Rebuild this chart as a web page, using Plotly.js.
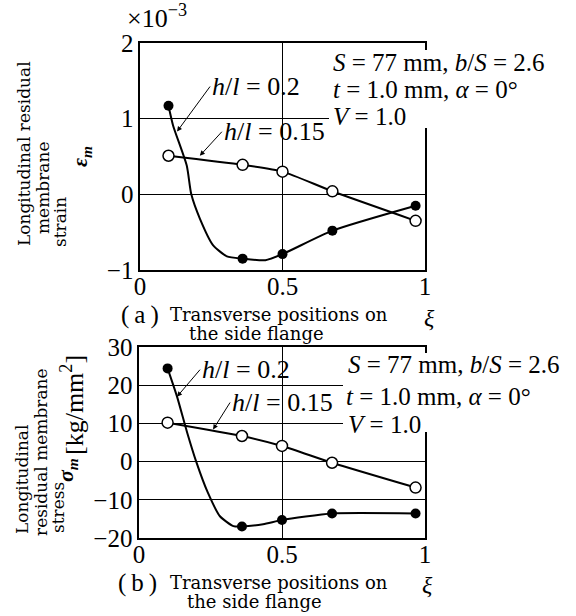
<!DOCTYPE html>
<html><head><meta charset="utf-8">
<script src="https://cdn.plot.ly/plotly-3.0.1.min.js"></script>
<style>html,body{margin:0;padding:0;background:#fff}</style>
</head><body><div id="chart" style="width:576px;height:616px"></div>
<script>
// ---- data ----
const xi = [0.1, 0.36, 0.5, 0.675, 0.967];
const strainH020 = [1.17, -0.85, -0.79, -0.48, -0.15];
const strainH015 = [0.51, 0.39, 0.30, 0.04, -0.35];
const stressH020 = [24.4, -17.0, -15.3, -13.6, -13.6];
const stressH015 = [10.2, 6.7, 4.1, -0.3, -6.8];
// drawn curve for h/l=0.2
const strainCurveX = [0.1, 0.116, 0.164, 0.18, 0.21, 0.256, 0.305, 0.36, 0.44, 0.5, 0.675, 0.967];
const strainCurveY = [1.17, 0.91, 0.38, 0.0, -0.32, -0.67, -0.82, -0.85, -0.87, -0.79, -0.48, -0.15];
const stressCurveX = [0.1, 0.133, 0.168, 0.2, 0.24, 0.283, 0.33, 0.36, 0.434, 0.5, 0.675, 0.967];
const stressCurveY = [24.4, 17, 7.7, 0, -8, -14.3, -16.9, -17.0, -16.4, -15.3, -13.6, -13.6];
// ticks
const xTickVals = [0, 0.5, 1];
const xTickText = ['0', '0.5', '1'];
const strainTickVals = [-1, 0, 1, 2];
const strainTickText = ['\u22121', '0', '1', '2'];
const stressTickVals = [-20, -10, 0, 10, 20, 30];
const stressTickText = ['\u221220', '\u221210', '0', '10', '20', '30'];

const F = '"Liberation Serif", "Times New Roman", serif';
const S = '"DejaVu Serif", serif';
const W = 576, H = 616;
const px = x => x / W, py = y => 1 - y / H;

function curve(x, y, xa, ya) {
  return {x, y, xaxis: xa, yaxis: ya, mode: 'lines', line: {color: '#000', width: 2, shape: 'spline', smoothing: 0.6}, hoverinfo: 'skip', showlegend: false};
}
function openSeries(x, y, xa, ya) {
  return {x, y, xaxis: xa, yaxis: ya, mode: 'lines+markers', line: {color: '#000', width: 2, shape: 'spline', smoothing: 0.6},
    marker: {symbol: 'circle', size: 11, color: '#fff', line: {color: '#000', width: 1.5}}, showlegend: false};
}
function filled(x, y, xa, ya) {
  return {x, y, xaxis: xa, yaxis: ya, mode: 'markers', marker: {symbol: 'circle', size: 10, color: '#000'}, showlegend: false};
}

const traces = [
  curve(strainCurveX, strainCurveY, 'x', 'y'),
  openSeries(xi, strainH015, 'x', 'y'),
  filled(xi, strainH020, 'x', 'y'),
  curve(stressCurveX, stressCurveY, 'x2', 'y2'),
  openSeries(xi, stressH015, 'x2', 'y2'),
  filled(xi, stressH020, 'x2', 'y2')
];

const axBase = {showline: true, mirror: true, linecolor: '#000', linewidth: 1.6, showgrid: true, gridcolor: '#000', gridwidth: 1,
  zeroline: false, ticks: '', tickfont: {family: F, size: 25, color: '#000'}, fixedrange: true};
const xBase = Object.assign({}, axBase, {ticklabelstandoff: -7});

function txt(x, y, text, size, opts) {
  return Object.assign({xref: 'paper', yref: 'paper', x: px(x), y: py(y), text, showarrow: false,
    xanchor: 'left', yanchor: 'middle', font: {family: F, size, color: '#000'}}, opts || {});
}
function stxt(x, y, text, size) {
  return txt(x, y, text, size, {font: {family: S, size, color: '#000'}});
}
function rot(x, y, text, size, family, opts) {
  return Object.assign({xref: 'paper', yref: 'paper', x: px(x), y: py(y), text, showarrow: false, textangle: -90,
    xanchor: 'center', yanchor: 'middle', font: {family: family, size, color: '#000'}}, opts || {});
}
function arrowLbl(xa, ya, x, y, ax, ay, text) {
  return {xref: xa, yref: ya, x, y, ax, ay, text, showarrow: true, arrowhead: 2, arrowsize: 1, arrowwidth: 1, arrowcolor: '#000',
    xanchor: 'left', yanchor: 'middle', font: {family: F, size: 26, color: '#000'}};
}

const annotations = [
  // top panel
  txt(125, 16, '\u00d710<sup>\u22123</sup>', 26),
  arrowLbl('x', 'y', 0.13, 0.83, 33, -45, '<i>h</i>/<i>l</i> = 0.2'),
  arrowLbl('x', 'y', 0.21, 0.51, 22, -24, '<i>h</i>/<i>l</i> = 0.15'),
  txt(331, 62, '<i>S</i> = 77 mm, <i>b</i>/<i>S</i> = 2.6', 25),
  txt(331, 90, '<i>t</i> = 1.0 mm, <i>\u03b1</i> = 0\u00b0', 25),
  txt(331, 116, '<i>V</i> = 1.0', 25),
  rot(24, 154, 'Longitudinal residual', 17, S),
  rot(43, 188, 'membrane', 17, S),
  rot(60, 222, 'strain', 17, S),
  rot(81, 157, '<b><i>\u03b5<sub>m</sub></i></b>', 22, F),
  txt(119, 315, '(\u2009a\u2009)', 25),
  stxt(168, 314, 'Transverse positions on', 18),
  stxt(187, 333, 'the side flange', 18),
  txt(429, 318, '<i>\u03be</i>', 24, {xanchor: 'center'}),
  // bottom panel
  arrowLbl('x2', 'y2', 0.133, 17, 23, -27, '<i>h</i>/<i>l</i> = 0.2'),
  arrowLbl('x2', 'y2', 0.259, 8.4, 17, -27, '<i>h</i>/<i>l</i> = 0.15'),
  txt(346, 364, '<i>S</i> = 77 mm, <i>b</i>/<i>S</i> = 2.6', 25),
  txt(344, 396, '<i>t</i> = 1.0 mm, <i>\u03b1</i> = 0\u00b0', 25),
  txt(346, 424, '<i>V</i> = 1.0', 25),
  rot(22, 480, 'Longitudinal', 17, S),
  rot(41, 452, 'residual membrane', 17, S),
  rot(58, 508, 'stress', 17, S),
  rot(67, 470, '<b><i>\u03c3<sub>m</sub></i></b>', 22, F),
  rot(72, 405, '[kg/mm<sup>2</sup>]', 26, F),
  txt(116, 583, '(\u2009b\u2009)', 25),
  stxt(168, 582, 'Transverse positions on', 18),
  stxt(185, 601, 'the side flange', 18),
  txt(427, 585, '<i>\u03be</i>', 24, {xanchor: 'center'})
];

const shapes = [
  {type: 'rect', xref: 'paper', yref: 'paper', x0: px(329), x1: px(566), y0: py(128), y1: py(50), fillcolor: '#fff', line: {width: 0}, layer: 'above'},
  {type: 'rect', xref: 'paper', yref: 'paper', x0: px(343), x1: px(566), y0: py(432), y1: py(353), fillcolor: '#fff', line: {width: 0}, layer: 'above'}
];

const layout = {
  width: W, height: H, margin: {l: 0, r: 0, t: 0, b: 0},
  paper_bgcolor: '#fff', plot_bgcolor: '#fff', showlegend: false,
  font: {family: F, color: '#000'},
  xaxis: Object.assign({}, xBase, {domain: [px(140), px(425)], range: [0, 1], tickvals: xTickVals, ticktext: xTickText, anchor: 'y'}),
  yaxis: Object.assign({}, axBase, {domain: [py(270), py(43)], range: [-1, 2], tickvals: strainTickVals, ticktext: strainTickText, anchor: 'x'}),
  xaxis2: Object.assign({}, xBase, {domain: [px(139), px(425)], range: [0, 1], tickvals: xTickVals, ticktext: xTickText, anchor: 'y2'}),
  yaxis2: Object.assign({}, axBase, {domain: [py(538), py(347)], range: [-20, 30], tickvals: stressTickVals, ticktext: stressTickText, anchor: 'x2'}),
  annotations, shapes
};

Plotly.newPlot('chart', traces, layout, {staticPlot: true, displayModeBar: false});
</script>
</body></html>
